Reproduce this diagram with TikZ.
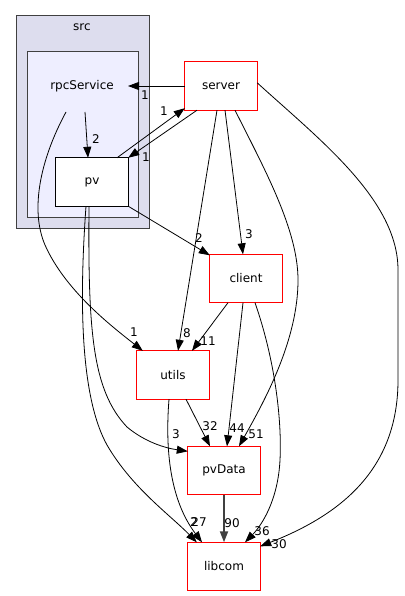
\documentclass[tikz,border=0pt]{standalone}
\usepackage{fontspec}
\setmainfont{DejaVu Sans}
\usetikzlibrary{arrows.meta}
\definecolor{clsrc}{RGB}{221,221,238}
\definecolor{clrpc}{RGB}{238,238,255}
\definecolor{bordergray}{RGB}{64,64,64}
\definecolor{dirred}{RGB}{255,0,0}
\begin{document}
\begin{tikzpicture}[x=1pt,y=-1pt,
  txt/.style={font=\fontsize{12}{14}\selectfont, text=black},
  dirnode/.style={fill=white, minimum width=72pt, minimum height=48pt, inner sep=0pt, txt},
  redframe/.style={draw=dirred, line width=1pt},
  blackframe/.style={draw=black, line width=1pt},
  cluster/.style={draw=bordergray, line width=1pt},
  lbl/.style={inner sep=0pt, font=\fontsize{12}{14}\selectfont, text=black},
  dep/.style={draw=black, line width=0.8pt, -{Triangle[length=11pt,width=8pt]}},
  heavy/.style={draw=bordergray, line width=1.8pt, -{Triangle[length=11pt,width=8pt]}}]
\useasboundingbox (0,0) rectangle (404,596);
% clusters
\coordinate (srcNW) at (16,16);
\coordinate (srcSE) at (149,228);
\coordinate (rpcNW) at (27,52);
\coordinate (rpcSE) at (138,217);
\filldraw[cluster, fill=clsrc] (srcNW) rectangle (srcSE);
\node[txt, inner sep=0pt] (srclbl) at (82,27) {src};
\filldraw[cluster, fill=clrpc] (rpcNW) rectangle (rpcSE);
\node[txt, inner sep=0pt] (rpcS) at (82,86) {rpcService};
% nodes
\node[dirnode] (pv) at (92,182) {pv};
\node[dirnode] (server) at (221,86) {server};
\node[dirnode] (client) at (246,278.5) {client};
\node[dirnode] (utils) at (173,375) {utils};
\node[dirnode] (pvData) at (224,470.5) {pvData};
\node[dirnode] (libcom) at (224,566.5) {libcom};
\draw[blackframe] (pv.south west) rectangle (pv.north east);
\draw[redframe] (server.south west) rectangle (server.north east);
\draw[redframe] (client.south west) rectangle (client.north east);
\draw[redframe] (utils.south west) rectangle (utils.north east);
\draw[redframe] (pvData.south west) rectangle (pvData.north east);
\draw[redframe] (libcom.south west) rectangle (libcom.north east);
% anchor coordinates
\coordinate (rpcE) at (128,86);
\coordinate (rpcB1) at (85,112);
\coordinate (rpcB2) at (66,112);
% edges
\draw[dep] (server.west) -- (rpcE);
\draw[dep] ([xshift=25pt]pv.north) -- ([yshift=2pt]server.south west);
\draw[dep] ([xshift=-24pt]server.south) -- (pv.north east);
\draw[dep] (rpcB1) -- ([xshift=-4pt]pv.north);
\draw[dep] (rpcB2) .. controls (40,160) and (30,210) .. (45,245) .. controls (65,290) and (110,325) .. ([xshift=6pt]utils.north west);
\draw[dep] (pv.south east) -- ([yshift=-1pt]client.north west);
\draw[dep] ([xshift=-3pt]pv.south) .. controls (88,330) and (92,390) .. (127,427) .. controls (145,442) and (165,448) .. ([yshift=-5pt]pvData.north west);
\draw[dep] ([xshift=-6pt]pv.south) .. controls (80,290) and (78,400) .. (110,450) .. controls (135,490) and (170,515) .. ([xshift=9pt]libcom.north west);
\draw[dep] ([xshift=4pt]server.south) -- ([xshift=-3pt]client.north);
\draw[dep] ([xshift=-4pt]server.south) -- ([xshift=5pt]utils.north);
\draw[dep] ([xshift=14pt]server.south) .. controls (265,170) and (298,230) .. (298,280) .. controls (298,340) and (265,400) .. ([xshift=15pt]pvData.north);
\draw[dep] ([yshift=-21pt]server.north east) .. controls (320,140) and (398,200) .. (398,270) -- (398,380) .. controls (398,470) and (340,515) .. ([yshift=-4pt]libcom.north east);
\draw[dep] ([xshift=-18pt]client.south) -- ([xshift=19pt]utils.north);
\draw[dep] ([xshift=-3pt]client.south) -- ([xshift=3pt]pvData.north);
\draw[dep] ([xshift=9pt]client.south) .. controls (275,360) and (282,420) .. (280,460) .. controls (278,500) and (262,525) .. ([xshift=21pt]libcom.north);
\draw[dep] ([xshift=13pt]utils.south) -- ([xshift=-14pt]pvData.north);
\draw[dep] ([xshift=-4pt]utils.south) .. controls (165,450) and (170,500) .. ([xshift=-22pt]libcom.north);
\draw[heavy] (pvData.south) -- (libcom.north);
% labels
\node[lbl] (l1) at (145,95) {1};
\node[lbl] (l2) at (164,111) {1};
\node[lbl] (l3) at (146,157) {1};
\node[lbl] (l4) at (96,139) {2};
\node[lbl] (l5) at (199,238) {2};
\node[lbl] (l6) at (249,234) {3};
\node[lbl] (l7) at (187,333) {8};
\node[lbl] (l8) at (208,341) {11};
\node[lbl] (l9) at (134,332) {1};
\node[lbl] (l10) at (210,426) {32};
\node[lbl] (l11) at (237,428) {44};
\node[lbl] (l12) at (256,434) {51};
\node[lbl] (l13) at (176,434) {3};
\node[lbl] (l14) at (194,522) {2};
\node[lbl] (l15) at (199,522) {27};
\node[lbl] (l16) at (232,523) {90};
\node[lbl] (l17) at (262,531) {36};
\node[lbl] (l18) at (279,544) {30};
\end{tikzpicture}
\end{document}
